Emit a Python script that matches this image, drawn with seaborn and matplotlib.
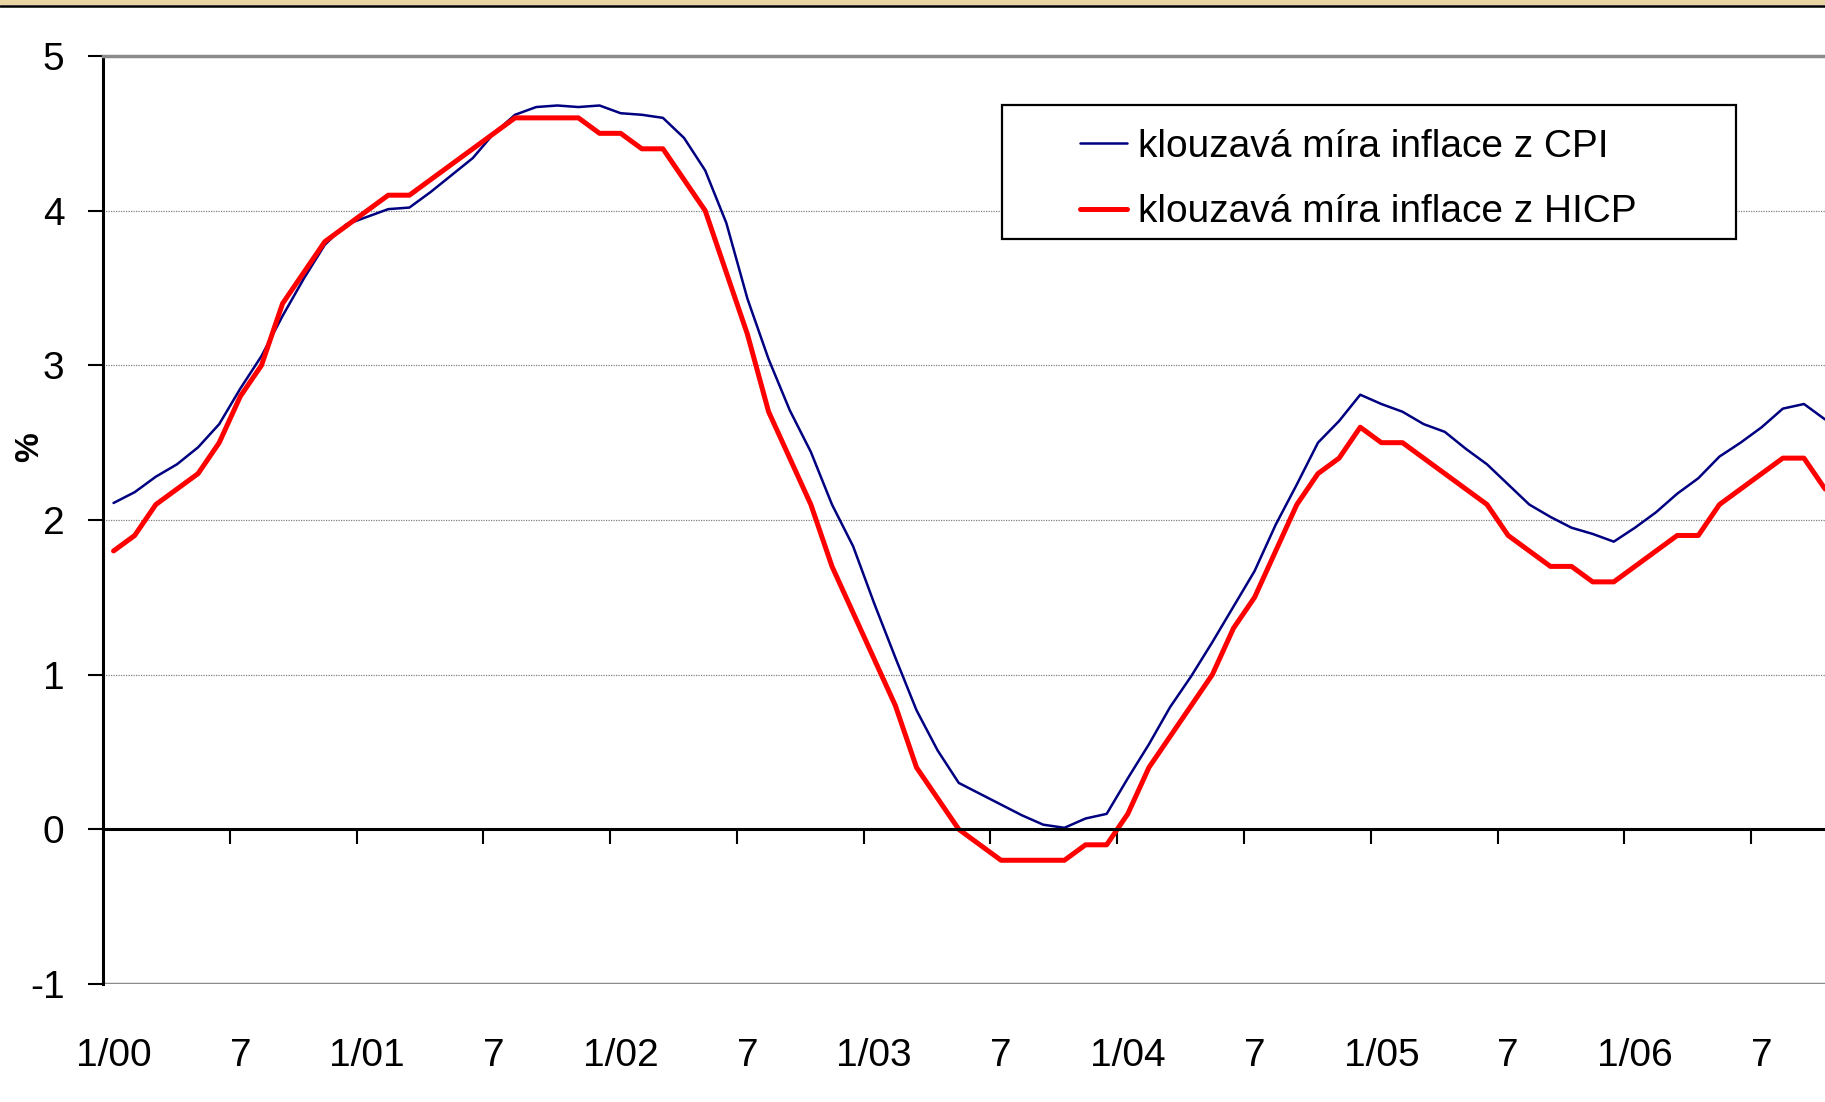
import numpy as np
import pandas as pd
import seaborn as sns
import matplotlib.pyplot as plt
from matplotlib.patches import Rectangle
from matplotlib.lines import Line2D
from matplotlib.ticker import FixedLocator, NullFormatter

# 12-month moving average inflation, monthly from 1/2000
cpi = [2.11, 2.18, 2.28, 2.36, 2.47, 2.62, 2.85, 3.06, 3.32, 3.56, 3.78, 3.91,
       3.96, 4.01, 4.02, 4.12, 4.23, 4.34, 4.50, 4.62, 4.67, 4.68, 4.67, 4.68,
       4.63, 4.62, 4.60, 4.47, 4.26, 3.92, 3.43, 3.04, 2.71, 2.44, 2.10, 1.83,
       1.46, 1.11, 0.77, 0.51, 0.30, 0.23, 0.16, 0.09, 0.03, 0.01, 0.07, 0.10,
       0.33, 0.55, 0.79, 0.99, 1.21, 1.44, 1.67, 1.97, 2.23, 2.50, 2.64, 2.81,
       2.75, 2.70, 2.62, 2.57, 2.46, 2.36, 2.23, 2.10, 2.02, 1.95, 1.91, 1.86,
       1.95, 2.05, 2.17, 2.27, 2.41, 2.50, 2.60, 2.72, 2.75, 2.65]
hicp = [1.8, 1.9, 2.1, 2.2, 2.3, 2.5, 2.8, 3.0, 3.4, 3.6, 3.8, 3.9,
        4.0, 4.1, 4.1, 4.2, 4.3, 4.4, 4.5, 4.6, 4.6, 4.6, 4.6, 4.5,
        4.5, 4.4, 4.4, 4.2, 4.0, 3.6, 3.2, 2.7, 2.4, 2.1, 1.7, 1.4,
        1.1, 0.8, 0.4, 0.2, 0.0, -0.1, -0.2, -0.2, -0.2, -0.2, -0.1, -0.1,
        0.1, 0.4, 0.6, 0.8, 1.0, 1.3, 1.5, 1.8, 2.1, 2.3, 2.4, 2.6,
        2.5, 2.5, 2.4, 2.3, 2.2, 2.1, 1.9, 1.8, 1.7, 1.7, 1.6, 1.6,
        1.7, 1.8, 1.9, 1.9, 2.1, 2.2, 2.3, 2.4, 2.4, 2.2]
tick_labels = ['1/00', '7', '1/01', '7', '1/02', '7', '1/03', '7',
               '1/04', '7', '1/05', '7', '1/06', '7']
series_names = ['klouzavá míra inflace z CPI', 'klouzavá míra inflace z HICP']

df = pd.DataFrame({'m': np.arange(len(cpi)), 'cpi': cpi, 'hicp': hicp})

sns.set_theme(style='white')
plt.rcParams['font.family'] = ['Liberation Sans', 'DejaVu Sans']
plt.rcParams['axes.unicode_minus'] = False
plt.rcParams['text.color'] = 'black'
plt.rcParams['axes.labelcolor'] = 'black'

W, H = 1825, 1102
fig = plt.figure(figsize=(W / 100, H / 100), dpi=100)
fig.patch.set_facecolor('white')

# plot area: 84 monthly categories, wider than the figure (right part cut off)
n_cat = 84
cat_w = 21.13
ax = fig.add_axes([103 / W, 118 / H, n_cat * cat_w / W, 928 / H])
ax.set_facecolor('white')

sns.lineplot(data=df, x='m', y='cpi', color='#000080', lw=1.8, ax=ax)
sns.lineplot(data=df, x='m', y='hicp', color='#FF0000', lw=3.6, ax=ax)

ax.set_xlim(-0.5, n_cat - 0.5)
ax.set_ylim(-1, 5)

# y axis
ax.set_yticks(range(-1, 6))
ax.tick_params(axis='y', left=True, length=10.8, width=1.5, color='black',
               pad=17, labelsize=28, labelcolor='black')
ax.yaxis.grid(True, color='#808080', lw=0.9, ls=(0, (1, 1)))
ax.set_ylabel('%', fontsize=24, fontweight='bold', rotation=90, color='black')
ax.yaxis.set_label_coords(-0.0325, 0.578)

# category axis crossing at zero, ticks between 6-month groups
ax.spines['bottom'].set_position(('data', 0))
ax.spines['bottom'].set_color('black')
ax.spines['bottom'].set_linewidth(2.2)
ax.spines['left'].set_color('black')
ax.spines['left'].set_linewidth(2.2)
ax.spines['top'].set_color('#8c8c8c')
ax.spines['top'].set_linewidth(2.5)
ax.spines['right'].set_visible(False)
ax.axhline(-1, color='#8c8c8c', lw=2.5, zorder=1)

ax.xaxis.set_major_locator(FixedLocator(np.arange(5.5, n_cat, 6)))
ax.xaxis.set_major_formatter(NullFormatter())
ax.xaxis.set_minor_locator(FixedLocator(np.arange(0, 6 * len(tick_labels), 6)))
ax.set_xticklabels(tick_labels, minor=True)
ax.tick_params(axis='x', which='major', bottom=True, length=10.8, width=1.5,
               color='black', direction='out')
ax.tick_params(axis='x', which='minor', bottom=True, length=0, pad=150,
               labelsize=28, labelcolor='black')
ax.set_xlabel('')

# legend with its own box
box = Rectangle((1002 / W, 1 - 239 / H), 734 / W, 134 / H, transform=fig.transFigure,
                facecolor='white', edgecolor='black', lw=1.6, zorder=5, clip_on=False)
ax.add_patch(box)
handles = [Line2D([], [], color='#000080', lw=1.8),
           Line2D([], [], color='#FF0000', lw=3.6)]
leg = ax.legend(handles, series_names, loc='upper left',
                bbox_to_anchor=(1080 / W, 1 - 129 / H), bbox_transform=fig.transFigure,
                frameon=False, fontsize=28, borderpad=0, borderaxespad=0,
                handlelength=1.2, handletextpad=0.28, labelspacing=0.75,
                labelcolor='black')
leg.set_zorder(6)

# parchment strip at the very top
fig.patches.append(Rectangle((0, 1 - 5 / H), 1, 5 / H, transform=fig.transFigure,
                             facecolor='#E9D5A4', edgecolor='none'))
fig.add_artist(Line2D([0, 1], [1 - 6 / H, 1 - 6 / H], transform=fig.transFigure,
                      color='black', lw=1.8))

fig.savefig('out.png', dpi=100)
